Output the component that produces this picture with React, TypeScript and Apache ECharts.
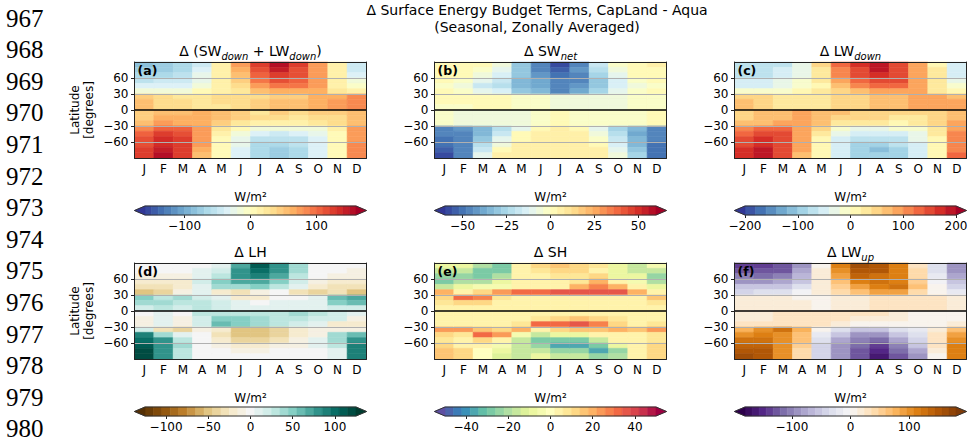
import { useEffect, useRef } from "react";
import * as echarts from "echarts";

const MONTHS = ["J", "F", "M", "A", "M", "J", "J", "A", "S", "O", "N", "D"];
// latitude band centres, north to south, 10 degree bands
const LAT_CENTERS = [85, 75, 65, 55, 45, 35, 25, 15, 5, -5, -15, -25, -35, -45, -55, -65, -75, -85];
const LAT_STEP = 10;
const LAT_TICKS = [-60, -30, 0, 30, 60];
const LINE_NUMBERS = [967, 968, 969, 970, 971, 972, 973, 974, 975, 976, 977, 978, 979, 980];

// each row = one month (J..D), values from north to south (W/m2)
const SW_LW_DOWN = [
  [-85, -80, -70, -55, -40, -20, 45, 55, 55, 40, 45, 55, 85, 100, 110, 115, 120, 125],
  [-80, -75, -70, -50, -35, -20, 30, 35, 35, 50, 60, 70, 100, 120, 130, 135, 140, 150],
  [-70, -65, -55, -45, -35, -15, 25, 30, 30, 55, 60, 65, 100, 115, 120, 125, 125, 125],
  [-45, -40, -30, -25, -20, 0, 20, 25, 25, 60, 65, 65, 70, 70, 75, 70, 65, 55],
  [10, 10, 12, 12, 12, 15, 30, 30, 25, 55, 55, 45, 25, 10, 5, 5, 5, 5],
  [70, 65, 55, 45, 35, 25, 30, 30, 30, 40, 40, 20, 5, -15, -25, -30, -35, -35],
  [125, 115, 100, 90, 70, 50, 35, 40, 40, 25, 35, 15, -20, -40, -55, -65, -70, -70],
  [150, 140, 125, 110, 90, 65, 40, 55, 55, 40, 35, 15, -20, -45, -60, -70, -75, -75],
  [120, 115, 110, 105, 95, 60, 40, 50, 50, 30, 25, 10, -15, -40, -55, -60, -65, -65],
  [75, 75, 75, 70, 70, 65, 65, 65, 65, 40, 30, 20, -15, -30, -35, -40, -40, -40],
  [10, 10, 10, 12, 15, 20, 65, 70, 70, 40, 35, 30, 10, 8, 8, 8, 8, 8],
  [-45, -42, -35, -20, -5, 10, 80, 80, 80, 55, 50, 55, 70, 75, 78, 80, 82, 85],
];

const SW_NET = [
  [3, 3, 2, 0, -3, 0, 2, 1, -3, -2, -2, -3, -46, -47, -50, -52, -55, -58],
  [3, 3, 1, -2, -5, -3, 0, 0, -2, -8, -8, -8, -44, -45, -45, -46, -47, -48],
  [0, -2, -5, -12, -18, -10, 0, 1, 0, -8, -8, -8, -36, -34, -30, -24, -18, -10],
  [-8, -10, -15, -20, -22, -15, 2, 2, 0, -6, -6, -6, -24, -18, -12, -5, 2, 5],
  [-30, -30, -32, -34, -34, -30, -3, -3, -3, -5, -5, -5, -10, 0, 3, 5, 5, 5],
  [-48, -46, -42, -40, -38, -34, -4, -4, -4, -3, -3, -3, 2, 4, 5, 5, 5, 5],
  [-58, -55, -50, -48, -47, -46, -5, -5, -5, 0, 0, 0, 6, 6, 6, 6, 6, 6],
  [-45, -44, -45, -45, -44, -40, -6, -6, -6, -2, -2, -2, 0, 4, 6, 6, 6, 6],
  [-18, -22, -27, -30, -32, -28, -6, -6, -6, -4, -4, -4, -12, -6, -2, 2, 4, 4],
  [-3, -5, -10, -14, -16, -12, -5, -5, -5, -3, -3, -3, -26, -22, -18, -14, -10, -6],
  [3, 2, 0, -3, -6, -4, -3, -3, -3, -2, -2, -2, -36, -37, -36, -35, -32, -25],
  [4, 3, 2, 0, -3, 0, -2, -2, -2, 0, 0, 0, -45, -46, -48, -50, -50, -52],
];

const LW_DOWN = [
  [-80, -80, -70, -55, -45, -10, 55, 65, 70, 50, 55, 60, 115, 135, 145, 155, 160, 170],
  [-80, -75, -65, -55, -45, -15, 40, 45, 45, 60, 60, 75, 125, 150, 165, 175, 185, 190],
  [-65, -60, -50, -40, -30, -10, 30, 35, 35, 70, 75, 80, 130, 140, 145, 145, 145, 145],
  [-40, -35, -25, -15, -10, 5, 25, 30, 30, 80, 85, 85, 95, 95, 95, 90, 85, 70],
  [40, 35, 30, 20, 15, 20, 35, 35, 35, 75, 70, 60, 40, 20, 10, 5, 5, 5],
  [120, 115, 100, 80, 60, 45, 45, 45, 45, 60, 55, 30, -10, -30, -45, -50, -55, -55],
  [165, 155, 140, 120, 100, 70, 55, 55, 55, 55, 50, 25, -30, -60, -75, -85, -90, -90],
  [195, 185, 170, 150, 120, 90, 60, 70, 70, 55, 45, 20, -30, -60, -80, -90, -110, -100],
  [155, 150, 145, 140, 130, 85, 65, 70, 75, 45, 35, 15, -20, -50, -70, -80, -85, -85],
  [85, 85, 90, 90, 90, 85, 80, 80, 80, 45, 35, 20, -10, -30, -40, -50, -50, -50],
  [15, 20, 25, 30, 25, 30, 80, 85, 85, 55, 50, 45, 30, 20, 15, 10, 10, 10],
  [-50, -50, -45, -30, -15, 10, 70, 80, 80, 70, 75, 85, 95, 105, 110, 115, 115, 120],
];

const LH = [
  [-3, -5, -8, -20, -35, -55, 45, 40, 20, -5, -10, -8, 20, 90, 100, 110, 115, 120],
  [-3, -5, -12, -25, -35, -40, 30, 35, 25, 5, 5, 5, -30, 40, 75, 80, 80, 80],
  [-2, -5, -10, -20, -25, -15, 35, 30, 20, -5, -10, -15, -40, 5, 30, 40, 30, 25],
  [0, 5, 10, 15, 10, 5, 20, 25, 25, 25, 20, 15, -15, -5, 0, 0, -2, -2],
  [10, 20, 30, 45, 35, -25, 10, 20, 20, 30, 45, 60, -25, -30, -25, -15, -5, -3],
  [70, 75, 75, 65, 40, -30, -20, 10, 10, 30, 50, 45, -50, -50, -40, -20, -10, -5],
  [105, 100, 90, 70, 50, -15, -25, 0, 5, 25, 40, 40, -55, -55, -45, -25, -10, -5],
  [80, 75, 65, 45, 25, -5, -5, 5, 10, 30, 30, 25, -45, -45, -35, -15, -5, -3],
  [40, 35, 25, 15, 5, -35, 0, 5, 10, 35, 30, 20, -25, -25, -15, -10, -3, -3],
  [0, -2, -5, -10, -20, -40, 5, 10, 5, 25, 20, 10, -15, -10, 5, 5, 0, 0],
  [-3, -5, -10, -20, -30, -35, 55, 50, 20, 15, 20, -20, -15, 35, 40, 25, 10, 5],
  [-3, -8, -15, -25, -35, -50, 70, 55, 20, 5, -10, -25, -10, 55, 80, 85, 85, 85],
];

const SH = [
  [-8, -15, -25, -28, -15, 20, 12, 8, 5, 3, 5, 5, 25, 10, 8, 10, 15, 15],
  [-10, -18, -25, -22, -10, 5, 32, 10, 5, 3, 3, 5, 25, 8, 5, 5, 10, 12],
  [-20, -28, -30, -20, -5, 10, 28, 10, 5, 3, 5, 5, 15, 32, 10, 3, 0, 0],
  [-30, -28, -20, -10, -3, 22, 8, 5, 3, 3, 3, 5, 10, 25, 2, -5, -10, -12],
  [3, 3, 3, 3, 3, 32, 5, 3, 3, 5, 5, 8, 18, -5, -15, -18, -18, -15],
  [10, 8, 5, 5, 5, 32, 5, 3, 3, 5, 8, 30, 5, -15, -28, -25, -18, -10],
  [15, 12, 8, 5, 5, 35, 5, 3, 3, 5, 10, 32, 10, -10, -30, -35, -25, -15],
  [12, 10, 8, 8, 20, 35, 5, 3, 3, 5, 15, 35, 15, -10, -30, -38, -25, -15],
  [8, 5, 10, 20, 28, 35, 5, 5, 3, 5, 10, 28, 15, 3, -15, -30, -35, -25],
  [-10, -10, -8, 3, 20, 35, 5, 3, 3, 5, 8, 10, 20, 5, 5, -10, -25, -20],
  [-15, -15, -10, -5, 3, 20, 5, 3, 3, 5, 5, 5, 15, 5, 3, 5, 5, 3],
  [-5, -15, -25, -22, -10, 5, 15, 8, 5, 3, 5, 8, 25, 8, 8, 10, 12, 12],
];

const LW_UP = [
  [-135, -125, -108, -90, -60, -40, 20, 20, 15, 15, 20, 25, 75, 105, 120, 135, 145, 160],
  [-135, -130, -110, -90, -60, -30, 15, 15, 15, 20, 20, 30, 100, 115, 130, 140, 150, 150],
  [-130, -125, -105, -75, -55, -25, 15, 15, 15, 25, 30, 35, 120, 100, 100, 105, 105, 105],
  [-95, -80, -65, -50, -30, -10, 10, 12, 12, 30, 30, 30, 75, 70, 60, 50, 40, 40],
  [8, 12, 18, 22, 22, 15, 10, 10, 10, 30, 30, 25, 5, -15, -30, -40, -45, -45],
  [110, 105, 90, 70, 55, 40, 15, 15, 15, 30, 30, 20, -30, -60, -75, -85, -95, -95],
  [160, 150, 135, 115, 95, 70, 20, 20, 20, 25, 20, 10, -50, -85, -105, -120, -130, -130],
  [155, 145, 130, 120, 110, 90, 25, 25, 25, 25, 15, 5, -50, -90, -110, -135, -155, -160],
  [110, 110, 110, 115, 120, 95, 25, 25, 25, 20, 15, 10, -30, -60, -80, -100, -120, -130],
  [35, 40, 45, 55, 60, 45, 25, 25, 25, 10, 10, 10, -15, -30, -40, -60, -80, -90],
  [-30, -30, -20, -5, 5, 5, 25, 25, 25, 10, 10, 10, 20, 25, 30, 25, 15, 5],
  [-90, -90, -80, -60, -40, -15, 20, 20, 20, 10, 10, 20, 60, 85, 100, 110, 110, 115],
];

// colour levels [min, max, step] and colorbar tick labels
const SW_LW_DOWN_LEVELS = [-160, 160, 10];
const SW_NET_LEVELS = [-60, 60, 4];
const LW_DOWN_LEVELS = [-200, 200, 20];
const LH_LEVELS = [-125, 125, 10];
const SH_LEVELS = [-50, 50, 4];
const LW_UP_LEVELS = [-180, 180, 12];
const SW_LW_DOWN_TICKS = [-100, 0, 100];
const SW_NET_TICKS = [-50, -25, 0, 25, 50];
const LW_DOWN_TICKS = [-200, -100, 0, 100, 200];
const LH_TICKS = [-100, -50, 0, 50, 100];
const SH_TICKS = [-40, -20, 0, 20, 40];
const LW_UP_TICKS = [-100, 0, 100];

const RDYLBU_R = [[49, 54, 149], [69, 117, 180], [116, 173, 209], [171, 217, 233], [224, 243, 248], [255, 255, 191], [254, 224, 144], [253, 174, 97], [244, 109, 67], [215, 48, 39], [165, 0, 38]];
const BRBG = [[84, 48, 5], [140, 81, 10], [191, 129, 45], [223, 194, 125], [246, 232, 195], [245, 245, 245], [199, 234, 229], [128, 205, 193], [53, 151, 143], [1, 102, 94], [0, 60, 48]];
const SPECTRAL_R = [[94, 79, 162], [50, 136, 189], [102, 194, 165], [171, 221, 164], [230, 245, 152], [255, 255, 191], [254, 224, 139], [253, 174, 97], [244, 109, 67], [213, 62, 79], [158, 1, 66]];
const PUOR_R = [[45, 0, 75], [84, 39, 136], [128, 115, 172], [178, 171, 210], [216, 218, 235], [247, 247, 247], [254, 224, 182], [253, 184, 99], [224, 130, 20], [179, 88, 6], [127, 59, 8]];

const FONT = '"DejaVu Sans", sans-serif';
const COL_X = [134.5, 434.5, 734.5];
const ROW_Y = [62, 263];
const PW = 232;
const PH = 96;
const CB_Y = [206, 407];
const CB_H = 9;
const EXT = 10.5;

type Panel = {
  title: string;
  tag: string;
  data: number[][];
  stops: number[][];
  levels: number[];
  ticks: number[];
};

const PANELS: Panel[] = [
  { title: "Δ (SW{s|down} + LW{s|down})", tag: "(a)", data: SW_LW_DOWN, stops: RDYLBU_R, levels: SW_LW_DOWN_LEVELS, ticks: SW_LW_DOWN_TICKS },
  { title: "Δ SW{s|net}", tag: "(b)", data: SW_NET, stops: RDYLBU_R, levels: SW_NET_LEVELS, ticks: SW_NET_TICKS },
  { title: "Δ LW{s|down}", tag: "(c)", data: LW_DOWN, stops: RDYLBU_R, levels: LW_DOWN_LEVELS, ticks: LW_DOWN_TICKS },
  { title: "Δ LH", tag: "(d)", data: LH, stops: BRBG, levels: LH_LEVELS, ticks: LH_TICKS },
  { title: "Δ SH", tag: "(e)", data: SH, stops: SPECTRAL_R, levels: SH_LEVELS, ticks: SH_TICKS },
  { title: "Δ LW{s|up}", tag: "(f)", data: LW_UP, stops: PUOR_R, levels: LW_UP_LEVELS, ticks: LW_UP_TICKS },
];

const cmapAt = (stops: number[][], t: number) => {
  const s = Math.min(Math.max(t, 0), 1) * (stops.length - 1);
  const i = Math.min(Math.floor(s), stops.length - 2);
  const f = s - i;
  const c = stops[i].map((a, j) => Math.round(a + (stops[i + 1][j] - a) * f));
  return `rgb(${c.join(",")})`;
};

const nBins = (p: Panel) => Math.round((p.levels[1] - p.levels[0]) / p.levels[2]);

// bin k in -1 (under) .. n (over)
const binColor = (p: Panel, k: number) => cmapAt(p.stops, (k + 1) / (nBins(p) + 1));

const valueColor = (p: Panel, v: number) => {
  const [min, max, step] = p.levels;
  const n = nBins(p);
  let k = Math.floor((v - min) / step);
  if (v < min) k = -1;
  if (v >= max) k = n;
  return binColor(p, k);
};

const minus = (v: number) => (v < 0 ? "−" + Math.abs(v) : String(v));

const App = () => {
  const chartRef = useRef<HTMLDivElement>(null);

  useEffect(() => {
    if (!chartRef.current) return;
    const chart = echarts.init(chartRef.current, null, { renderer: "svg" });

    const hmGrids: any[] = [];
    const cbGrids: any[] = [];
    const hmX: any[] = [];
    const cbX: any[] = [];
    const hmY: any[] = [];
    const cbY: any[] = [];
    const series: any[] = [];
    const graphics: any[] = [];
    const edge = { show: true, onZero: false, lineStyle: { color: "#222", width: 1 } };

    PANELS.forEach((p, i) => {
      const cx = COL_X[i % 3];
      const ry = ROW_Y[Math.floor(i / 3)];
      const cby = CB_Y[Math.floor(i / 3)];

      // heatmap: grid i, x axes 2i (bottom) / 2i+1 (top), y axes 2i (left) / 2i+1 (right)
      hmGrids.push({ left: cx, top: ry, width: PW, height: PH });
      hmX.push(
        {
          gridIndex: i, type: "category", data: MONTHS, position: "bottom", z: 6,
          axisLine: edge,
          axisTick: { alignWithLabel: true, length: 3.5, lineStyle: { color: "#222" } },
          axisLabel: { margin: 5, fontSize: 12, fontFamily: FONT, color: "#000", interval: 0 },
          splitLine: { show: false },
        },
        {
          gridIndex: i, type: "category", data: MONTHS, position: "top", z: 6,
          axisLine: edge, axisTick: { show: false }, axisLabel: { show: false },
        }
      );
      hmY.push(
        {
          gridIndex: i, type: "value", min: -90, max: 90, interval: 30, position: "left", z: 6,
          axisLine: edge,
          axisTick: { show: true, length: 3.5, customValues: LAT_TICKS, lineStyle: { color: "#222" } },
          axisLabel: {
            margin: 6, fontSize: 12, fontFamily: FONT, color: "#000", customValues: LAT_TICKS,
            formatter: (v: number) => (Math.abs(v) > 80 ? "" : minus(v)),
          },
          splitLine: { show: false },
        },
        {
          gridIndex: i, type: "value", min: -90, max: 90, interval: 30, position: "right", z: 6,
          axisLine: edge, axisTick: { show: false }, axisLabel: { show: false },
          splitLine: { show: false },
        }
      );
      const cells: number[][] = [];
      p.data.forEach((col, m) => col.forEach((v, r) => cells.push([m, LAT_CENTERS[r], v])));
      series.push({
        type: "custom",
        xAxisIndex: 2 * i,
        yAxisIndex: 2 * i,
        encode: { x: 0, y: 1 },
        data: cells,
        silent: true,
        renderItem: (_: any, api: any) => {
          const m = api.value(0);
          const lat = api.value(1);
          const fill = valueColor(p, api.value(2));
          const a = api.coord([m, lat + LAT_STEP / 2]);
          const b = api.coord([m, lat - LAT_STEP / 2]);
          const w = api.size([1, 0])[0];
          return {
            type: "rect",
            shape: { x: a[0] - w / 2, y: a[1], width: w, height: b[1] - a[1] },
            style: { fill, stroke: fill, lineWidth: 0.6 },
          };
        },
        markLine: {
          silent: true,
          symbol: ["none", "none"],
          label: { show: false },
          lineStyle: { color: "#b0b0b0", width: 1, type: "solid" },
          data: [
            { yAxis: 60 }, { yAxis: 30 }, { yAxis: -30 }, { yAxis: -60 },
            { yAxis: 0, lineStyle: { color: "#000", width: 1.5, type: "solid" } },
          ],
        },
      });

      // colorbar: grid 6+i, axes 12+i
      const [lmin, lmax, lstep] = p.levels;
      cbGrids.push({ left: cx + EXT, top: cby, width: PW - 2 * EXT, height: CB_H });
      cbX.push({
        gridIndex: 6 + i, type: "value", min: lmin, max: lmax, position: "bottom",
        axisLine: { show: false },
        axisTick: { show: true, length: 3, customValues: p.ticks, lineStyle: { color: "#222" } },
        axisLabel: { margin: 5, fontSize: 12, fontFamily: FONT, color: "#000", customValues: p.ticks, formatter: minus },
        splitLine: { show: false },
      });
      cbY.push({ gridIndex: 6 + i, type: "value", min: 0, max: 1, show: false });
      const bins: number[][] = [];
      for (let k = 0; k < nBins(p); k++) bins.push([lmin + k * lstep, lmin + (k + 1) * lstep, k, 0]);
      series.push({
        type: "custom",
        xAxisIndex: 12 + i,
        yAxisIndex: 12 + i,
        encode: { x: [0, 1], y: 3 },
        data: bins,
        clip: false,
        silent: true,
        renderItem: (_: any, api: any) => {
          const k = api.value(2);
          const a = api.coord([api.value(0), 1]);
          const b = api.coord([api.value(1), 0]);
          const L = api.coord([lmin, 0])[0];
          const R = api.coord([lmax, 0])[0];
          const ext = 0.05 * (R - L);
          const mid = (a[1] + b[1]) / 2;
          const fill = binColor(p, k);
          const children: any[] = [
            { type: "rect", shape: { x: a[0], y: a[1], width: b[0] - a[0], height: b[1] - a[1] }, style: { fill, stroke: fill, lineWidth: 0.6 } },
          ];
          if (k === 0) {
            const c = binColor(p, -1);
            children.push({ type: "polygon", shape: { points: [[L, a[1]], [L, b[1]], [L - ext, mid]] }, style: { fill: c, stroke: c, lineWidth: 0.6 } });
          }
          if (k === nBins(p) - 1) {
            const c = binColor(p, nBins(p));
            children.push({ type: "polygon", shape: { points: [[R, a[1]], [R, b[1]], [R + ext, mid]] }, style: { fill: c, stroke: c, lineWidth: 0.6 } });
            children.push({
              type: "polygon",
              shape: { points: [[L - ext, mid], [L, a[1]], [R, a[1]], [R + ext, mid], [R, b[1]], [L, b[1]]] },
              style: { fill: "none", stroke: "#333", lineWidth: 1 },
            });
          }
          return { type: "group", children };
        },
      });

      graphics.push(
        {
          type: "text", x: cx + PW / 2, y: ry - 11,
          style: {
            text: p.title, fill: "#000", fontSize: 14, fontFamily: FONT, align: "center", verticalAlign: "middle", lineHeight: 20,
            rich: { s: { fontSize: 10, fontStyle: "italic", fontFamily: FONT, verticalAlign: "bottom", fill: "#000" } },
          },
        },
        {
          type: "text", x: cx + 3, y: ry + 8.5, z: 100,
          style: { text: p.tag, fill: "#000", fontSize: 12.5, fontWeight: "bold", fontFamily: FONT, align: "left", verticalAlign: "middle" },
        },
        {
          type: "text", x: cx + PW / 2, y: cby - 9.5,
          style: { text: "W/m²", fill: "#000", fontSize: 12, fontFamily: FONT, align: "center", verticalAlign: "middle" },
        }
      );
    });

    ROW_Y.forEach((ry) => {
      graphics.push({
        type: "text", x: 82, y: ry + PH / 2, rotation: Math.PI / 2,
        style: { text: "Latitude\n[degrees]", fill: "#000", fontSize: 12, lineHeight: 14, fontFamily: FONT, align: "center", verticalAlign: "middle" },
      });
    });

    LINE_NUMBERS.forEach((n, k) => {
      graphics.push({
        type: "text", x: 6, y: 18 + k * 31.6,
        style: { text: String(n), fill: "#000", fontSize: 25, fontFamily: '"Liberation Serif", serif', align: "left", verticalAlign: "middle" },
      });
    });

    graphics.push(
      {
        type: "text", x: 537, y: 10,
        style: { text: "Δ Surface Energy Budget Terms, CapLand - Aqua", fill: "#000", fontSize: 14, fontFamily: FONT, align: "center", verticalAlign: "middle" },
      },
      {
        type: "text", x: 537, y: 27,
        style: { text: "(Seasonal, Zonally Averaged)", fill: "#000", fontSize: 14, fontFamily: FONT, align: "center", verticalAlign: "middle" },
      }
    );

    chart.setOption({
      animation: false,
      backgroundColor: "#fff",
      grid: [...hmGrids, ...cbGrids],
      xAxis: [...hmX, ...cbX],
      yAxis: [...hmY, ...cbY],
      series,
      graphic: { elements: graphics },
    });

    return () => {
      chart.dispose();
    };
  }, []);

  return (
    <div
      ref={chartRef}
      style={{ position: "absolute", left: 0, top: 0, width: "971px", height: "443px" }}
    />
  );
};

export default App;
